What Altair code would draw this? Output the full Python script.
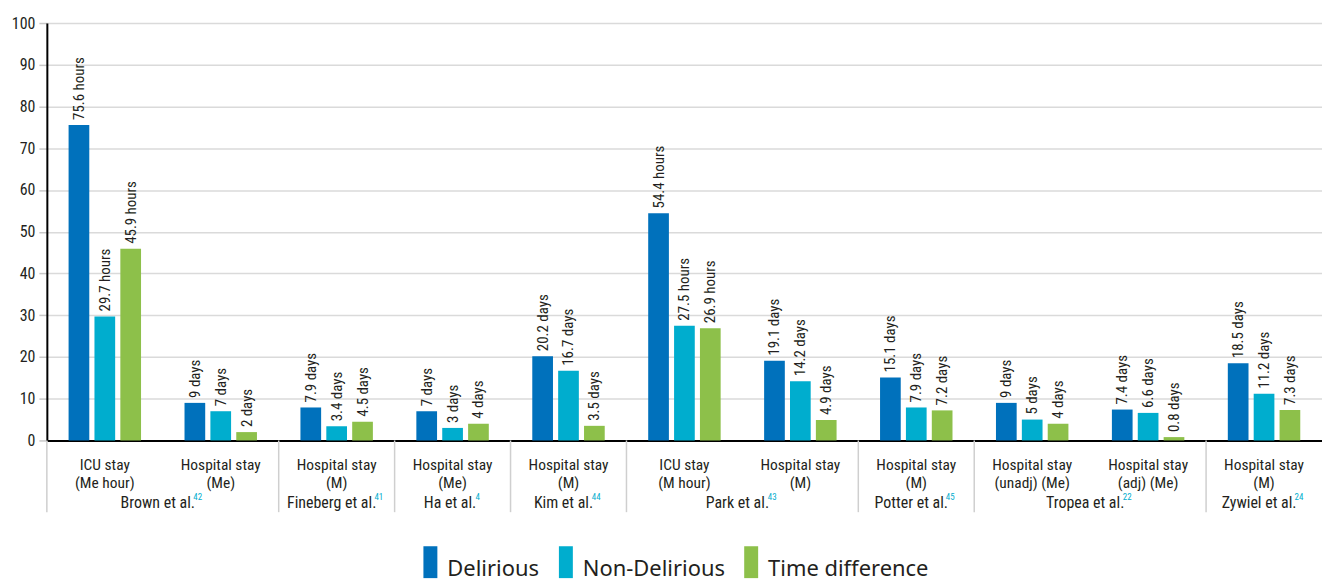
import altair as alt
import pandas as pd

# ---- data ----
categories = ["ICU stay|(Me hour)", "Hospital stay|(Me)", "Hospital stay|(M)", "Hospital stay|(Me)",
              "Hospital stay|(M)", "ICU stay|(M hour)", "Hospital stay|(M)", "Hospital stay|(M)",
              "Hospital stay|(unadj) (Me)", "Hospital stay|(adj) (Me)", "Hospital stay|(M)"]
studies = ["Brown et al.", "Brown et al.", "Fineberg et al.", "Ha et al.", "Kim et al.",
           "Park et al.", "Park et al.", "Potter et al.", "Tropea et al.", "Tropea et al.", "Zywiel et al."]
study_refs = {"Brown et al.": "42", "Fineberg et al.": "41", "Ha et al.": "4", "Kim et al.": "44",
              "Park et al.": "43", "Potter et al.": "45", "Tropea et al.": "22", "Zywiel et al.": "24"}
units = ["hours", "days", "days", "days", "days", "hours", "days", "days", "days", "days", "days"]
delirious = [75.6, 9, 7.9, 7, 20.2, 54.4, 19.1, 15.1, 9, 7.4, 18.5]
non_delirious = [29.7, 7, 3.4, 3, 16.7, 27.5, 14.2, 7.9, 5, 6.6, 11.2]
time_difference = [45.9, 2, 4.5, 4, 3.5, 26.9, 4.9, 7.2, 4, 0.8, 7.3]
series_names = ["Delirious", "Non-Delirious", "Time difference"]
colors = ["#0071BC", "#00ADCE", "#8DC04A"]

W, H = 1280, 419
FONT = "Liberation Sans Narrow, Roboto Condensed, DejaVu Sans Condensed, sans-serif"
LEG_FONT = "Noto Sans, Open Sans, sans-serif"

keys = [f"{i:02d}#{c}" for i, c in enumerate(categories)]

rows = []
for i, k in enumerate(keys):
    for s, vals in zip(series_names, [delirious, non_delirious, time_difference]):
        v = vals[i]
        rows.append({"key": k, "series": s, "value": v, "label": f"{v:g} {units[i]}"})
df = pd.DataFrame(rows)

x_scale = alt.Scale(paddingInner=0, paddingOuter=0)
x_axis = alt.Axis(title=None, labelExpr="split(split(datum.label, '#')[1], '|')",
                  labelFont=FONT, labelFontSize=15.5, labelColor="#231f20", labelLineHeight=18,
                  labelPadding=17, ticks=False, domainColor="#000000", domainWidth=2,
                  labelAngle=0, labelBaseline="top", grid=False)
y_axis = alt.Axis(title=None, values=list(range(0, 101, 10)), labelFont=FONT, labelFontSize=16,
                  labelColor="#231f20", tickColor="#c8c8c8", tickSize=8, tickWidth=1.5,
                  labelPadding=4, domainColor="#000000", domainWidth=2,
                  gridColor="#dadada", gridWidth=1.5)

base = alt.Chart(df).encode(
    x=alt.X("key:N", sort=keys, scale=x_scale, axis=x_axis),
    xOffset=alt.XOffset("series:N", sort=series_names,
                        scale=alt.Scale(paddingInner=0.2, paddingOuter=0.84)),
    y=alt.Y("value:Q", scale=alt.Scale(domain=[0, 100], nice=False), axis=y_axis),
)

bars = base.mark_bar().encode(
    color=alt.Color("series:N", sort=series_names,
                    scale=alt.Scale(domain=series_names, range=colors),
                    legend=alt.Legend(title=None, orient="none", direction="horizontal",
                                      legendX=369, legendY=522,
                                      symbolType="M-0.4375,-0.8H0.4375V1.2H-0.4375Z", symbolSize=1024,
                                      symbolStrokeWidth=0, symbolOpacity=1,
                                      labelFont=LEG_FONT, labelFontSize=22, labelColor="#231f20",
                                      labelLimit=400, labelOffset=1, columnPadding=10,
                                      labelBaseline="top"))
)

texts = base.mark_text(angle=270, align="left", baseline="middle", dx=5,
                       font=FONT, fontSize=15, color="#231f20").encode(text="label:N")

# study labels & separators
study_rows = []
seen = []
for i, s in enumerate(studies):
    if s in seen:
        continue
    seen.append(s)
    span = studies.count(s)
    study_rows.append({"key": keys[i], "study": s, "ref": study_refs[s], "span": span})
sdf = pd.DataFrame(study_rows)

sep = alt.Chart(sdf).mark_rule(color="#cfcfcf", strokeWidth=1.5).encode(
    x=alt.X("key:N", sort=keys, bandPosition=0),
    y=alt.value(H), y2=alt.value(H + 72))

# rough narrow-font character widths (per 1000 em)
cw = {" ": 278, ".": 278, "a": 556, "e": 556, "t": 278, "l": 222, "B": 667, "r": 333, "o": 556,
      "w": 722, "n": 556, "F": 611, "i": 222, "b": 556, "g": 556, "H": 722, "K": 667, "m": 833,
      "P": 667, "k": 500, "T": 611, "p": 556, "Z": 611, "y": 500, "v": 500}
NAME_FS = 16
SUP_FS = 9


def text_w(t, fs):
    return sum(cw.get(ch, 556) for ch in t) * fs / 1000 * 0.82


study_layers = []
for r in study_rows:
    bp = 1 if r["span"] == 2 else 0.5
    one = sdf[sdf["study"] == r["study"]]
    nw = text_w(r["study"], NAME_FS)
    sw = len(r["ref"]) * 5
    shift = -sw / 2
    name = alt.Chart(one).mark_text(font=FONT, fontSize=NAME_FS, color="#231f20",
                                    align="center", baseline="middle", dx=shift).encode(
        x=alt.X("key:N", sort=keys, bandPosition=bp), y=alt.value(H + 63), text="study:N")
    sup = alt.Chart(one).mark_text(font=FONT, fontSize=SUP_FS, color="#00ADCE",
                                   align="left", baseline="middle", dx=shift + nw / 2 + 1).encode(
        x=alt.X("key:N", sort=keys, bandPosition=bp), y=alt.value(H + 57), text="ref:N")
    study_layers += [name, sup]

chart = alt.layer(bars, texts, sep, *study_layers).properties(
    width=W, height=H, padding={"left": 3, "top": 6, "right": 0, "bottom": 0}
).configure_view(stroke=None).configure_axisY(domain=True)

chart.save("out.html", embed_options={"renderer": "svg", "actions": False})
